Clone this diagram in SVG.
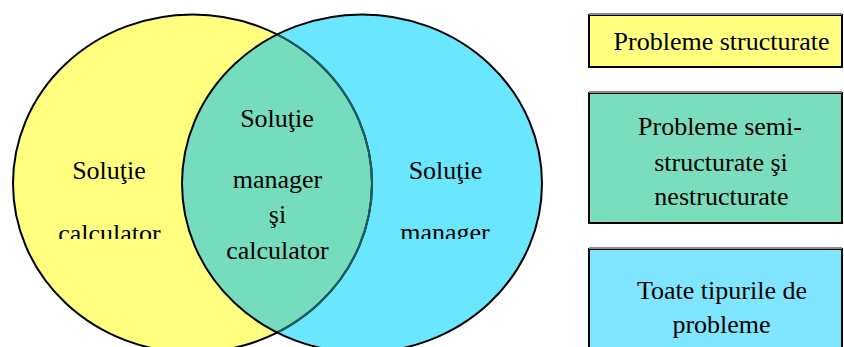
<svg xmlns="http://www.w3.org/2000/svg" width="844" height="347" viewBox="0 0 844 347">
  <style>
    .lbl { font-family: "Liberation Serif", "Times New Roman", serif; font-size: 26px; fill: #000; text-anchor: middle; }
    .box { stroke: #000; stroke-width: 2; }
    .edge { stroke: #8c8c8c; stroke-width: 2; }
  </style>
  <defs>
    <ellipse id="setA" cx="192.5" cy="183.5" rx="179.5" ry="169"/>
    <ellipse id="setB" cx="362" cy="183.5" rx="180" ry="169"/>
    <clipPath id="clipA"><use href="#setA"/></clipPath>
    <clipPath id="clipB"><use href="#setB"/></clipPath>
    <clipPath id="clipLine"><rect x="0" y="0" width="580" height="239"/></clipPath>
  </defs>

  <!-- Venn diagram: computer solution vs. manager solution -->
  <g id="set-calculator">
    <use href="#setA" fill="#FFFF80"/>
  </g>
  <g id="set-manager">
    <use href="#setB" fill="#6BE6FF"/>
  </g>
  <g id="set-overlap">
    <use href="#setB" fill="#76DCBE" clip-path="url(#clipA)"/>
  </g>
  <g id="outlines" fill="none" stroke-width="2">
    <use href="#setA" stroke="#000"/>
    <use href="#setA" stroke="#1F5E66" clip-path="url(#clipB)"/>
    <use href="#setB" stroke="#000"/>
  </g>

  <g id="label-calculator" clip-path="url(#clipLine)">
    <text class="lbl" x="109" y="179">Soluţie</text>
    <text class="lbl" x="109.5" y="242">calculator</text>
  </g>
  <g id="label-manager" clip-path="url(#clipLine)">
    <text class="lbl" x="445.5" y="179">Soluţie</text>
    <text class="lbl" x="445" y="241">manager</text>
  </g>
  <g id="label-overlap">
    <text class="lbl" x="277" y="127">Soluţie</text>
    <text class="lbl" x="277.5" y="188">manager</text>
    <text class="lbl" x="277.5" y="223">şi</text>
    <text class="lbl" x="277.5" y="259">calculator</text>
  </g>

  <!-- Legend boxes -->
  <g id="legend-structured">
    <rect class="box" x="589" y="15" width="253" height="52" fill="#FFFF80"/>
    <line class="edge" x1="589" y1="14" x2="842" y2="14"/>
    <text class="lbl" x="721.5" y="50">Probleme structurate</text>
  </g>
  <g id="legend-semistructured">
    <rect class="box" x="589" y="93" width="253" height="130" fill="#7ADEBE"/>
    <line class="edge" x1="589" y1="92" x2="842" y2="92"/>
    <text class="lbl" x="720" y="135">Probleme semi-</text>
    <text class="lbl" x="721" y="171">structurate şi</text>
    <text class="lbl" x="721.5" y="205">nestructurate</text>
  </g>
  <g id="legend-all">
    <rect class="box" x="589" y="249" width="253" height="110" fill="#80E6FF"/>
    <line class="edge" x1="589" y1="248" x2="842" y2="248"/>
    <text class="lbl" x="722" y="299">Toate tipurile de</text>
    <text class="lbl" x="721.5" y="333">probleme</text>
  </g>
</svg>
